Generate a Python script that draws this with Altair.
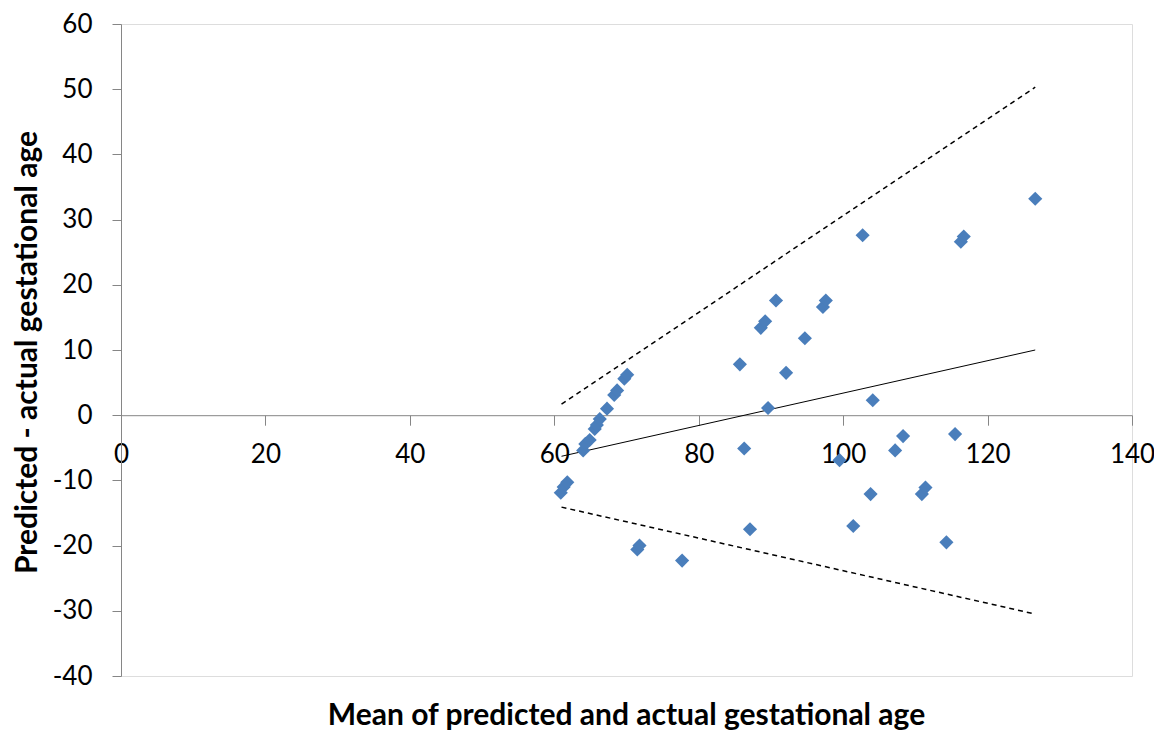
import altair as alt
import pandas as pd

# Scatter data: mean of predicted & actual (x) vs difference (y)
mean_vals = [60.9, 61.3, 61.8, 64.0, 64.3, 64.9, 65.6, 65.9, 66.3, 67.3,
             68.3, 68.7, 69.7, 70.1, 71.5, 71.8, 77.7, 85.7, 86.3, 87.1,
             88.6, 89.2, 89.6, 90.7, 92.1, 94.7, 97.2, 97.6, 99.5, 101.4,
             102.7, 103.8, 104.1, 107.2, 108.3, 110.9, 111.4, 114.3, 115.5,
             116.3, 116.7, 126.6]
diff_vals = [-11.9, -11.0, -10.3, -5.4, -4.4, -3.8, -2.1, -1.5, -0.6, 1.0,
             3.1, 3.8, 5.6, 6.2, -20.6, -20.0, -22.3, 7.8, -5.1, -17.5,
             13.4, 14.4, 1.1, 17.6, 6.5, 11.8, 16.6, 17.6, -6.9, -17.0,
             27.6, -12.1, 2.3, -5.4, -3.2, -12.1, -11.1, -19.5, -2.9,
             26.6, 27.4, 33.2]

# Regression lines (endpoints)
line_x = [61.0, 126.6]
mean_line_y = [-6.3, 10.0]
upper_line_y = [1.7, 50.3]
lower_line_y = [-14.1, -30.5]

pts = pd.DataFrame({"x": mean_vals, "y": diff_vals})
lines = pd.DataFrame({
    "x": line_x * 3,
    "y": mean_line_y + upper_line_y + lower_line_y,
    "kind": ["mean"] * 2 + ["upper"] * 2 + ["lower"] * 2,
})

FONT = "Lato"
AX = "#868686"

xscale = alt.Scale(domain=[0, 140], nice=False, zero=False)
yscale = alt.Scale(domain=[-40, 60], nice=False, zero=False)

xaxis = alt.Axis(values=list(range(0, 141, 20)), offset=-260.8, title=None,
                 grid=False, domainColor=AX, tickColor=AX, tickSize=10,
                 labelFont=FONT, labelFontSize=26, labelColor="black",
                 labelPadding=16, labelFlush=False, labelOverlap=False,
                 labelExpr="'' + datum.value")
yaxis = alt.Axis(values=list(range(-40, 61, 10)), grid=False, domainColor=AX,
                 tickColor=AX, tickSize=9, labelFont=FONT, labelFontSize=26,
                 labelColor="black", labelPadding=20, labelFlush=False,
                 labelOverlap=False, labelExpr="'' + datum.value",
                 title="Predicted - actual gestational age",
                 titleFont=FONT, titleFontSize=30, titleFontWeight="bold",
                 titleColor="black", titlePadding=10, titleY=328)

base_x = alt.X("x:Q", scale=xscale, axis=xaxis)
base_y = alt.Y("y:Q", scale=yscale, axis=yaxis)

mean_line = alt.Chart(lines).transform_filter(alt.datum.kind == "mean").mark_line(
    color="black", strokeWidth=1).encode(x=base_x, y=base_y)
upper_line = alt.Chart(lines).transform_filter(alt.datum.kind == "upper").mark_line(
    color="black", strokeWidth=1.5, strokeDash=[5, 4]).encode(x=base_x, y=base_y)
lower_line = alt.Chart(lines).transform_filter(alt.datum.kind == "lower").mark_line(
    color="black", strokeWidth=1.5, strokeDash=[5, 4]).encode(x=base_x, y=base_y)

points = alt.Chart(pts).mark_point(shape="diamond", filled=True, size=200,
                                   color="#4A7EBB", opacity=1).encode(
    x=base_x, y=base_y)

chart = alt.layer(upper_line, lower_line, mean_line, points).properties(
    width=1011, height=652,
    autosize=alt.AutoSizeParams(type="none"),
    padding={"left": 113, "top": 16, "right": 22, "bottom": 57},
    title=alt.TitleParams(text="Mean of predicted and actual gestational age",
                          orient="bottom", anchor="middle", font=FONT,
                          fontSize=30, fontWeight="bold", color="black",
                          offset=12),
).configure_view(stroke=None).configure(background="white")

chart.save("out.html", embed_options={"renderer": "svg", "actions": False})
